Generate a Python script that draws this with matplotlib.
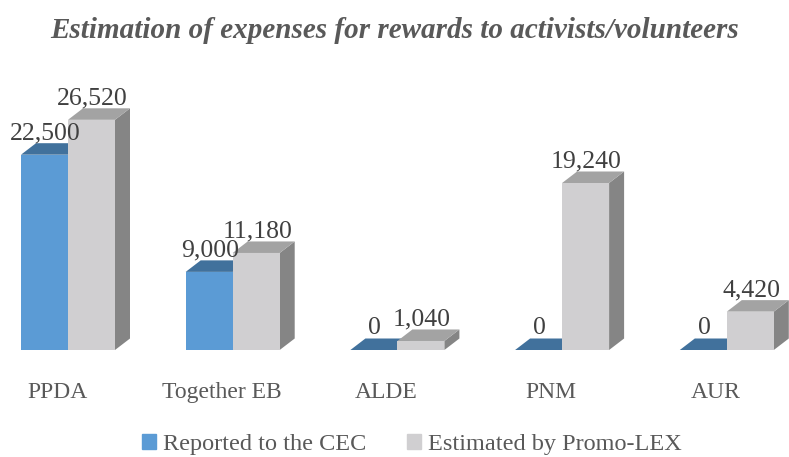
"""Estimation of expenses for rewards to activists/volunteers (3D-style bar chart)."""

import matplotlib
matplotlib.use("Agg")
import matplotlib.pyplot as plt
from matplotlib.patches import Patch

parties = ["PPDA", "Together EB", "ALDE", "PNM", "AUR"]
reported_cec = [22500, 9000, 0, 0, 0]
estimated_promolex = [26520, 11180, 1040, 19240, 4420]
series_names = ["Reported to the CEC", "Estimated by Promo-LEX"]

FIG_W, FIG_H, DPI = 789, 457, 100
GROUP_PX = 164.7          # distance between categories in pixels
VAL_PX = 0.00868          # pixels per unit of value
BASE_PX = 107             # baseline height above the bottom edge
BAR_W = 47 / GROUP_PX     # one bar, in category units
DEPTH_X_PX, DEPTH_Y_PX = 15, 11.5

BLUE_FRONT, BLUE_TOP = "#5b9bd5", "#41719c"
GREY_FRONT, GREY_TOP, GREY_SIDE = "#d0cfd1", "#a3a3a3", "#858585"

plt.rcParams["font.family"] = ["Liberation Serif", "DejaVu Serif"]

fig = plt.figure(figsize=(FIG_W / DPI, FIG_H / DPI), dpi=DPI)
ax = fig.add_axes([0, 0, 1, 1])
xmin = -68 / GROUP_PX
ax.set_xlim(xmin, xmin + FIG_W / GROUP_PX)
ymin = -BASE_PX / VAL_PX
ax.set_ylim(ymin, ymin + FIG_H / VAL_PX)
ax.axis("off")

dx = DEPTH_X_PX / GROUP_PX
dy = DEPTH_Y_PX / VAL_PX


def draw_bar(x0, v, front, top, side):
    ax.fill([x0 + BAR_W, x0 + BAR_W + dx, x0 + BAR_W + dx, x0 + BAR_W],
            [0, dy, v + dy, v], color=side, lw=0)
    ax.fill([x0, x0 + BAR_W, x0 + BAR_W + dx, x0 + dx],
            [v, v, v + dy, v + dy], color=top, lw=0)
    ax.bar(x0, v, width=BAR_W, align="edge", color=front, lw=0)
    ax.annotate(f"{v:,}", xy=(x0 + BAR_W / 2, v), xytext=(1, DEPTH_Y_PX + 4),
                textcoords="offset pixels", ha="center", va="baseline",
                fontsize=18.5, color="#404040")


for i, (rep, est) in enumerate(zip(reported_cec, estimated_promolex)):
    draw_bar(i - BAR_W, rep, BLUE_FRONT, BLUE_TOP, BLUE_TOP)
    draw_bar(i, est, GREY_FRONT, GREY_TOP, GREY_SIDE)
    ax.annotate(parties[i], xy=(i, 0), xytext=(-11, -48),
                textcoords="offset pixels", ha="center", va="baseline",
                fontsize=17, color="#595959")

fig.text(0.5, (FIG_H - 38) / FIG_H,
         "Estimation of expenses for rewards to activists/volunteers",
         ha="center", va="baseline", fontsize=21, fontweight="bold",
         fontstyle="italic", color="#595959")

handles = [Patch(color=BLUE_FRONT), Patch(color=GREY_FRONT)]
fig.legend(handles, series_names, loc="lower center",
           bbox_to_anchor=(412 / FIG_W, 0.004), ncol=2, frameon=False,
           fontsize=17.5, labelcolor="#595959", handlelength=0.55,
           handleheight=0.55, handletextpad=0.3, columnspacing=1.7,
           borderpad=0, borderaxespad=0)

fig.savefig("out.png", dpi=DPI)
